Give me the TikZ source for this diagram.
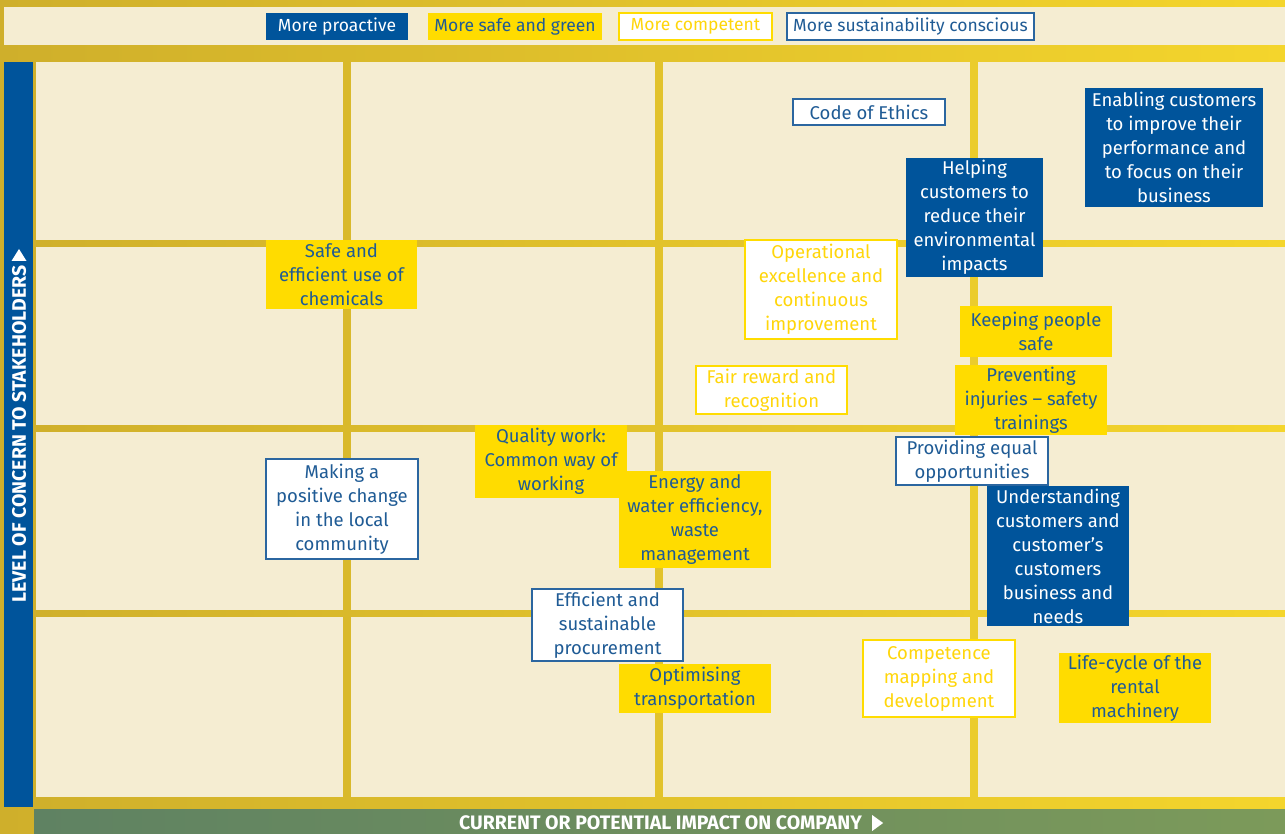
\documentclass[tikz,border=0pt]{standalone}
\usepackage{fontspec}
\setmainfont{Fira Sans}
\definecolor{gold}{HTML}{CFAF2B}
\definecolor{goldR}{HTML}{F4D52C}
\definecolor{cream}{HTML}{F5EDD2}
\definecolor{navy}{HTML}{00549B}
\definecolor{yel}{HTML}{FFDC00}
\definecolor{tblue}{HTML}{1F5B95}
\definecolor{ytext}{HTML}{FFD60A}
\definecolor{bord}{HTML}{2B66A0}
\definecolor{grnL}{HTML}{5F8262}
\definecolor{grnR}{HTML}{7C9A5A}
\newcommand\bx[7]{\node[#2, minimum width={#5-#3}, minimum height={#6-#4}] (#1) at ({(#3+#5)/2},{(#4+#6)/2}) {#7};}
\begin{document}
\begin{tikzpicture}[x=1pt,y=-1pt,
  box/.style={inner sep=0pt, align=center, font=\fontsize{18.5}{24}\selectfont},
  legbox/.style={inner sep=0pt, align=center, font=\fontsize{17.5}{20}\selectfont},
  proact/.style={fill=navy, text=white},
  safegreen/.style={fill=yel, text=tblue},
  compet/.style={fill=white, draw=yel, line width=1.5pt, text=ytext},
  sustain/.style={fill=white, draw=bord, line width=1.5pt, text=tblue},
  axislabel/.style={text=white, font=\fontsize{19.5}{20}\selectfont\bfseries, inner sep=0pt},
  arrowtri/.style={fill=white},
  cell/.style={fill=cream}]
\useasboundingbox (0,0) rectangle (1285,834);
\shade[left color=gold, right color=goldR] (0,0) rectangle (1285,834);
\fill[cream] (4,7) rectangle (1285,45);
% grid cells
\foreach \xa/\xb in {36/343,351/655,663/970,978/1285}
  \foreach \ya/\yb in {62/240,247/425,432/610,617/797}
    \fill[cell] (\xa,\ya) rectangle (\xb,\yb);
% axes
\fill[navy] (4,62) rectangle (33,807);
\shade[left color=grnL, right color=grnR] (34,809) rectangle (1285,834);
\node[axislabel, rotate=90] (ylab) at (19,434) {LEVEL OF CONCERN TO STAKEHOLDERS};
\fill[arrowtri] (11.5,261) -- (26.5,261) -- (19,249) -- cycle;
\node[axislabel] (xlab) at (660.5,823) {CURRENT OR POTENTIAL IMPACT ON COMPANY};
\coordinate (xt) at (xlab.east);
\fill[arrowtri] ([shift={(10,-8)}]xt) -- ([shift={(10,8)}]xt) -- ([shift={(21,0)}]xt) -- cycle;
% legend
\bx{lpro}{legbox,proact}{266}{13}{408}{40}{More proactive}
\bx{lsafe}{legbox,safegreen}{428}{13}{602}{40}{More safe and green}
\bx{lcomp}{legbox,compet}{619}{13}{772}{40}{More competent}
\bx{lsust}{legbox,sustain}{787}{13}{1034}{40}{More sustainability conscious}
% content
\bx{ethics}{box,sustain}{793}{99}{945}{125}{Code of Ethics}
\bx{enab}{box,proact}{1085}{88}{1263}{207}{Enabling customers\\to improve their\\performance and\\to focus on their\\business}
\bx{help}{box,proact}{906}{158}{1043}{277}{Helping\\customers to\\reduce their\\environmental\\impacts}
\bx{chem}{box,safegreen}{266}{240}{417}{309}{Safe and\\efficient use of\\chemicals}
\bx{oper}{box,compet}{745}{240}{897}{339}{Operational\\excellence and\\continuous\\improvement}
\bx{keep}{box,safegreen}{960}{306}{1112}{357}{Keeping people\\safe}
\bx{fair}{box,compet}{696}{366}{847}{414}{Fair reward and\\recognition}
\bx{prev}{box,safegreen}{955}{365}{1107}{435}{Preventing\\injuries – safety\\trainings}
\bx{equal}{box,sustain}{896}{437}{1048}{485}{Providing equal\\opportunities}
\bx{qual}{box,safegreen}{475}{425}{627}{498}{Quality work:\\Common way of\\working}
\bx{comm}{box,sustain}{266}{459}{418}{559}{Making a\\positive change\\in the local\\community}
\bx{ener}{box,safegreen}{619}{471}{771}{568}{Energy and\\water efficiency,\\waste\\management}
\bx{under}{box,proact}{987}{486}{1129}{626}{Understanding\\customers and\\customer’s\\customers\\business and\\needs}
\bx{proc}{box,sustain}{532}{589}{683}{661}{Efficient and\\sustainable\\procurement}
\bx{trans}{box,safegreen}{619}{664}{771}{713}{Optimising\\transportation}
\bx{compm}{box,compet}{863}{640}{1015}{717}{Competence\\mapping and\\development}
\bx{life}{box,safegreen}{1059}{653}{1211}{723}{Life-cycle of the\\rental\\machinery}
\end{tikzpicture}
\end{document}
